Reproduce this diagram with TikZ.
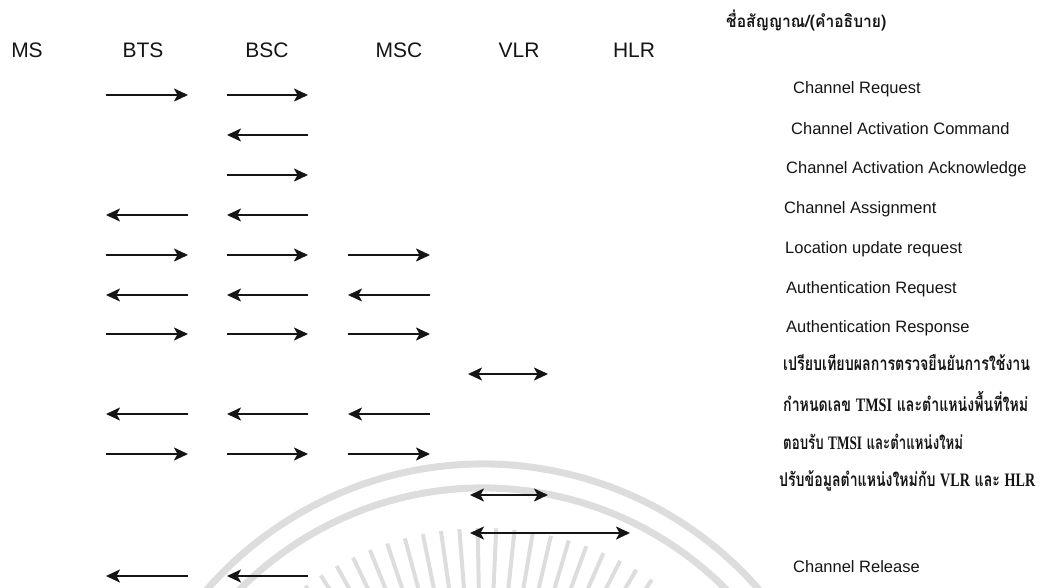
\documentclass[tikz,border=0pt]{standalone}
\usepackage{fontspec}
\usepackage{graphicx}
\setmainfont{Liberation Sans}
\newfontfamily\thaifont[Script=Thai]{Loma}
\newfontfamily\romanfont{Liberation Serif}
\usetikzlibrary{arrows.meta}

% Thai lines are squeezed horizontally to a given width (in pt)
\newsavebox\thaibox
\newcommand\thaifit[2]{%
  \sbox\thaibox{#2}%
  \edef\thaiscale{\fpeval{#1/(\the\wd\thaibox)}}%
  \scalebox{\thaiscale}[1]{\usebox\thaibox}}
\newcommand\lat[1]{{\romanfont\bfseries #1}}

\definecolor{ink}{HTML}{151515}
\definecolor{seal}{HTML}{DDDDDD}

\tikzset{
  hdr/.style={font=\fontsize{21}{25}\selectfont, text=ink, inner sep=0pt},
  msg/.style={font=\fontsize{16.5}{20}\selectfont, text=ink, anchor=west, inner sep=0pt},
  thaimsg/.style={font=\thaifont\bfseries\fontsize{19}{23}\selectfont, text=ink, anchor=west, inner sep=0pt},
  thaihead/.style={font=\thaifont\bfseries\fontsize{17}{20}\selectfont, text=ink, anchor=west, inner sep=0pt},
  sig/.style={draw=ink, line width=2pt, -{Stealth[length=14pt,width=13pt,inset=3.5pt]}},
  dsig/.style={draw=ink, line width=2pt, {Stealth[length=14pt,width=13pt,inset=3.5pt]}-{Stealth[length=14pt,width=13pt,inset=3.5pt]}},
  sealband/.style={draw=seal, line width=7pt},
  sealray/.style={draw=seal, line width=4pt},
}

\begin{document}
\begin{tikzpicture}[x=1pt,y=-1pt]
\useasboundingbox (0,0) rectangle (1046,588);

% faint seal in the background
\begin{scope}
  \clip (0,0) rectangle (1046,588);
  \coordinate (sealc) at (483,830);
  \draw[sealband] (sealc) ++(195:366) arc[start angle=195, end angle=345, radius=366];
  \draw[sealband] (sealc) ++(195:342) arc[start angle=195, end angle=345, radius=342];
  \foreach \a in {234,237.5,...,306}
    \draw[sealray] (sealc) ++(\a:240) -- ++(\a:62);
\end{scope}

% column heads
\node[hdr] (ms)  at (27,50)  {MS};
\node[hdr] (bts) at (143,50) {BTS};
\node[hdr] (bsc) at (267,50) {BSC};
\node[hdr] (msc) at (399,50) {MSC};
\node[hdr] (vlr) at (519,50) {VLR};
\node[hdr] (hlr) at (634,50) {HLR};
\node[thaihead] (signame) at (726,21) {\thaifit{160}{ชื่อสัญญาณ/(คำอธิบาย)}};

% message names
\node[msg] (t-req)  at (793,89)  {Channel Request};
\node[msg] (t-cmd)  at (791,129) {Channel Activation Command};
\node[msg] (t-ack)  at (786,169) {Channel Activation Acknowledge};
\node[msg] (t-asg)  at (784,209) {Channel Assignment};
\node[msg] (t-loc)  at (785,249) {Location update request};
\node[msg] (t-areq) at (786,289) {Authentication Request};
\node[msg] (t-ares) at (786,328) {Authentication Response};
\node[thaimsg] (t-cmp)  at (783,362) {\thaifit{247}{เปรียบเทียบผลการตรวจยืนยันการใช้งาน}};
\node[thaimsg] (t-tmsi) at (783,402) {\thaifit{245}{กำหนดเลข \lat{TMSI} และตำแหน่งพื้นที่ใหม่}};
\node[thaimsg] (t-tack) at (783,442) {\thaifit{180}{ตอบรับ \lat{TMSI} และตำแหน่งใหม่}};
\node[thaimsg] (t-upd)  at (779,481) {\thaifit{256}{ปรับข้อมูลตำแหน่งใหม่กับ \lat{VLR} และ \lat{HLR}}};
\node[msg] (t-rel)  at (793,567) {Channel Release};

% one-way signals: name / from x / to x / y
\foreach \n/\xa/\xb/\yy in {
  req1/106/188/95, req2/227/308/95,
  cmd2/308/227/135,
  ack2/227/308/175,
  asg1/188/106/215, asg2/308/227/215,
  loc1/106/188/255, loc2/227/308/255, loc3/348/430/255,
  areq1/188/106/295, areq2/308/227/295, areq3/430/348/295,
  ares1/106/188/334, ares2/227/308/334, ares3/348/430/334,
  tmsi1/188/106/414, tmsi2/308/227/414, tmsi3/430/348/414,
  tack1/106/188/454, tack2/227/308/454, tack3/348/430/454,
  rel1/188/106/576, rel2/308/227/576}
{
  \coordinate (\n-s) at (\xa,\yy);
  \coordinate (\n-e) at (\xb,\yy);
  \draw[sig] (\n-s) -- (\n-e);
}

% two-way exchanges between VLR and HLR
\foreach \n/\xa/\xb/\yy in {cmp/468/548/374, upd1/470/548/495, upd2/470/630/533}
{
  \coordinate (\n-s) at (\xa,\yy);
  \coordinate (\n-e) at (\xb,\yy);
  \draw[dsig] (\n-s) -- (\n-e);
}
\end{tikzpicture}
\end{document}
